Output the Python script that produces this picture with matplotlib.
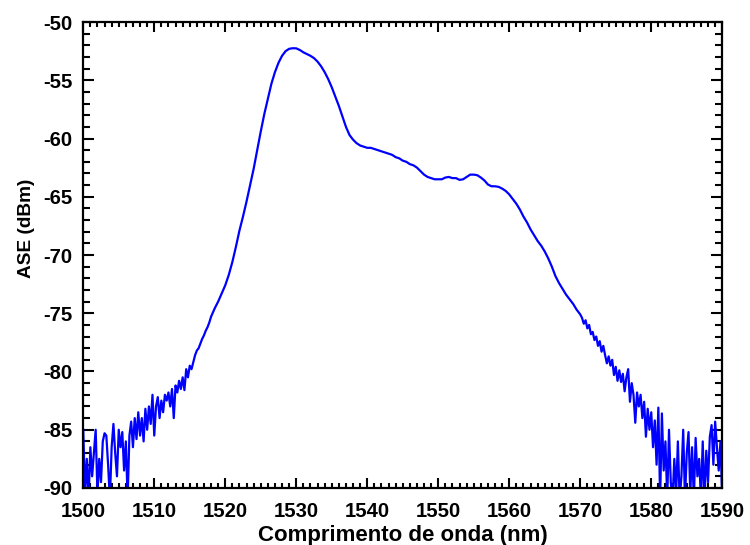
import numpy as np
import matplotlib
matplotlib.use("Agg")
import matplotlib.pyplot as plt
from matplotlib.ticker import MultipleLocator

# noisy rising edge, 1500-1518 nm, 0.25 nm step
wl_rise = np.arange(1500.0, 1518.01, 0.25)
ase_rise = [
    -85.0, -90.5, -87.5, -91.0, -86.5, -89.0, -87.0, -85.0,
    -90.5, -87.5, -89.5, -86.0, -85.3, -85.5, -88.0, -91.0,
    -86.5, -84.5, -87.0, -89.0, -85.0, -86.5, -85.2, -88.5,
    -86.0, -91.0, -85.5, -84.3, -86.5, -84.0, -85.8, -83.5,
    -85.5, -84.0, -86.0, -83.2, -85.0, -83.0, -84.5, -82.0,
    -85.5, -83.0, -82.2, -84.0, -82.5, -83.5, -82.0, -82.5,
    -81.8, -83.0, -81.5, -84.0, -81.2, -81.8, -80.8, -81.5,
    -80.5, -81.6, -79.8, -80.5, -79.5, -79.8, -79.2, -78.6,
    -78.2, -78.0, -77.6, -77.2, -76.9, -76.5, -76.2, -75.8,
    -75.3,
]

# smooth band, 1518.5-1570 nm, 0.5 nm step
wl_band = np.arange(1518.5, 1570.01, 0.5)
ase_band = [
    -74.6, -74.0, -73.3, -72.6, -71.7, -70.6, -69.3, -67.9,
    -66.7, -65.4, -64.0, -62.6, -61.0, -59.4, -57.9, -56.6,
    -55.3, -54.3, -53.5, -52.9, -52.5, -52.3, -52.25, -52.26,
    -52.4, -52.6, -52.75, -52.9, -53.1, -53.4, -53.8, -54.3,
    -54.9, -55.6, -56.4, -57.2, -58.1, -59.0, -59.7, -60.1,
    -60.4, -60.6, -60.7, -60.8,
    -60.8, -60.9, -61.0, -61.1, -61.2, -61.3, -61.4, -61.6,
    -61.7, -61.9, -62.0, -62.2, -62.3, -62.5, -62.8, -63.1,
    -63.3, -63.4, -63.5, -63.5,
    -63.5, -63.35, -63.3, -63.4, -63.4, -63.55, -63.5, -63.3,
    -63.1, -63.1, -63.15, -63.35, -63.6, -63.95, -64.1, -64.1,
    -64.15, -64.3, -64.5, -64.8,
    -65.2, -65.6, -66.1, -66.7, -67.2, -67.8, -68.3, -68.8,
    -69.2, -69.7, -70.3, -71.0, -71.8, -72.4, -72.9, -73.4,
    -73.8, -74.2, -74.7, -75.1,
]

# noisy falling edge, 1570.25-1590 nm, 0.25 nm step
wl_fall = np.arange(1570.25, 1590.01, 0.25)
ase_fall = [
    -75.4, -75.9, -75.6, -76.3, -76.0, -76.8, -76.6, -77.3,
    -77.0, -77.8, -77.4, -78.3, -77.8, -78.6, -79.3, -78.7,
    -79.5, -79.0, -80.3, -79.6, -80.8, -79.9, -80.9, -80.2,
    -81.7, -80.5, -79.8, -82.6, -81.0, -82.0, -84.4, -81.8,
    -83.0, -82.0, -84.0, -82.6, -85.6, -83.2, -85.0, -83.5,
    -86.5, -84.2, -88.0, -83.1, -91.0, -83.6, -88.5, -86.0,
    -91.0, -85.0, -89.5, -91.0, -87.5, -90.5, -86.0, -91.0,
    -89.0, -85.0, -91.0, -87.0, -85.2, -90.5, -86.5, -91.0,
    -85.7, -89.0, -87.5, -91.0, -86.0, -91.0, -86.8, -89.5,
    -85.6, -84.6, -88.0, -84.3, -86.5, -88.5, -86.0, -91.0,
]

wavelength = np.concatenate([wl_rise, wl_band, wl_fall])
ase = np.concatenate([ase_rise, ase_band, ase_fall])

plt.rcParams["font.family"] = ["Liberation Sans", "DejaVu Sans"]
plt.rcParams["font.weight"] = "bold"
plt.rcParams["axes.unicode_minus"] = False

fig = plt.figure(figsize=(7.5, 5.45), dpi=100)
ax = fig.add_axes([0.111, 0.1046, 0.852, 0.855])

ax.plot(wavelength, ase, color="#0000ff", linewidth=1.6)

ax.set_xlim(1500, 1590)
ax.set_ylim(-90, -50)
ax.xaxis.set_major_locator(MultipleLocator(10))
ax.xaxis.set_minor_locator(MultipleLocator(1))
ax.yaxis.set_major_locator(MultipleLocator(5))
ax.yaxis.set_minor_locator(MultipleLocator(1))

ax.tick_params(axis="both", which="both", direction="in", top=True, right=True,
               width=1.5, labelsize=14.6)
ax.tick_params(axis="y", which="major", length=8, pad=8)
ax.tick_params(axis="y", which="minor", length=5)
ax.tick_params(axis="x", which="major", length=7, pad=10)
ax.tick_params(axis="x", which="minor", length=3.5)
for lbl in ax.get_xticklabels() + ax.get_yticklabels():
    lbl.set_fontweight("bold")
for spine in ax.spines.values():
    spine.set_linewidth(1.6)

ax.set_xlabel("Comprimento de onda (nm)", fontsize=16, fontweight="bold", labelpad=3)
ax.set_ylabel("ASE (dBm)", fontsize=13.7, fontweight="bold", va="center")
ax.yaxis.set_label_coords(-0.089, 0.558)

fig.savefig("out.png", dpi=100)
